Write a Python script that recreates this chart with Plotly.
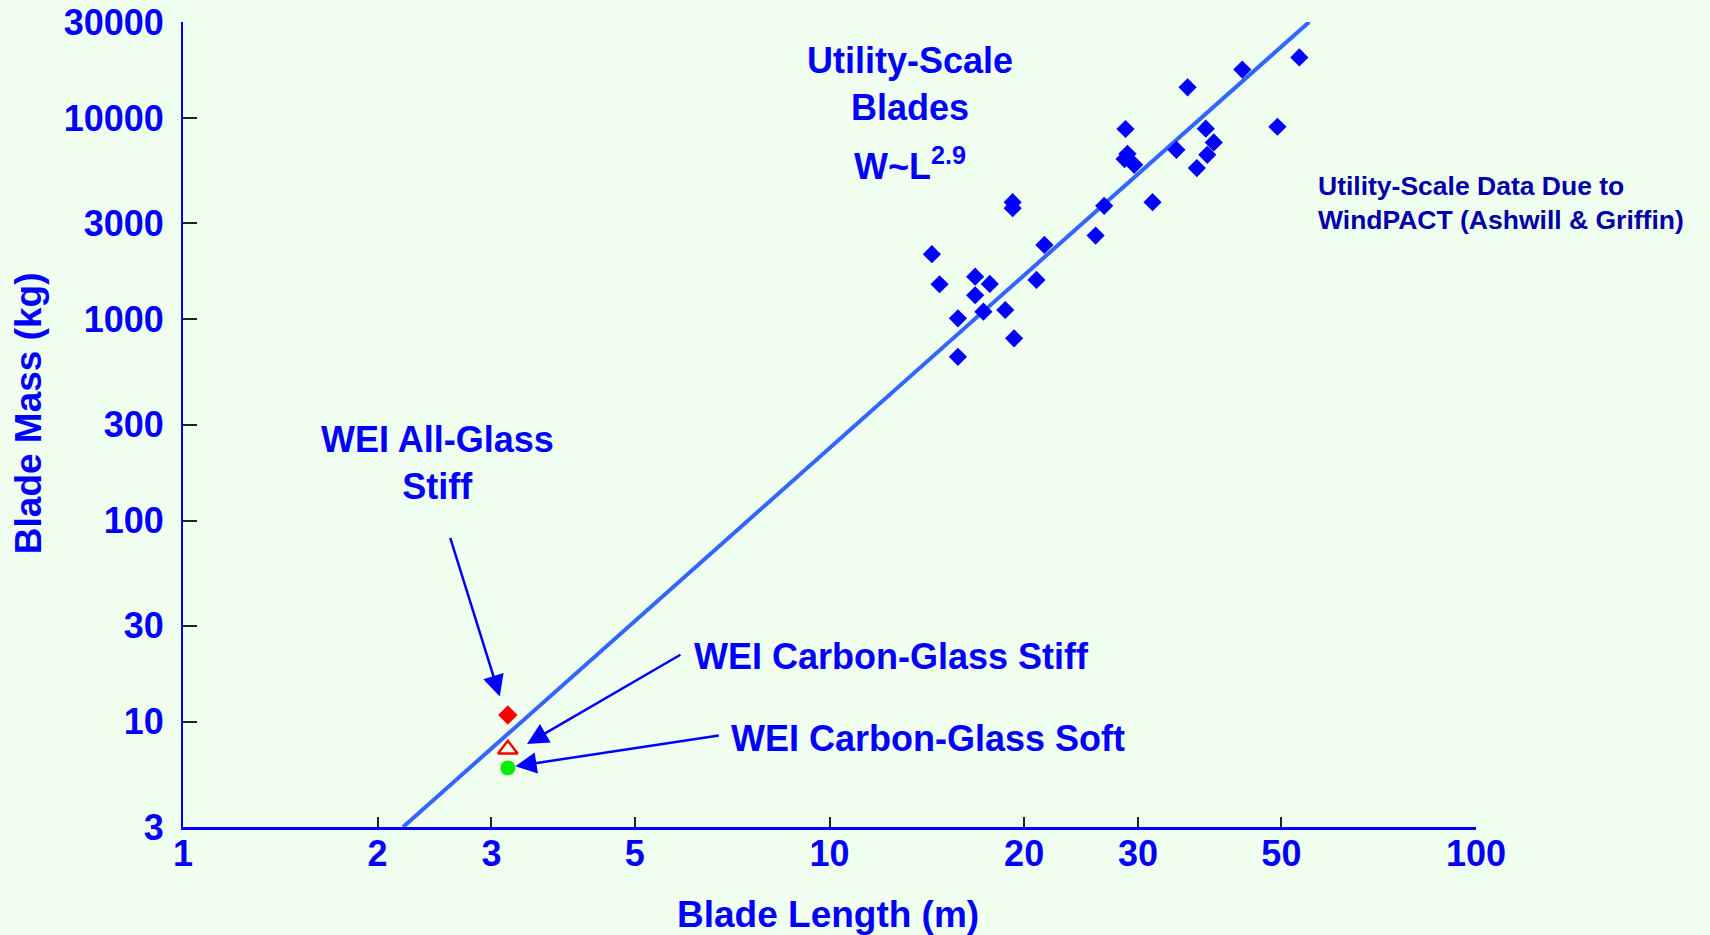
import plotly.graph_objects as go

# Utility-scale blade survey (WindPACT): blade length (m) vs blade mass (kg)
utility_length = [53.3, 43.5, 35.8, 28.7, 38.2, 49.3, 39.3, 38.4, 34.4, 37.0,
                  28.9, 28.6, 29.6, 19.2, 19.2, 31.6, 26.6, 25.8, 21.5, 14.4,
                  14.8, 20.9, 16.8, 17.7, 16.8, 17.3, 18.7, 15.8, 19.3, 15.8]
utility_mass = [20000, 17400, 14200, 8820, 8850, 9050, 7560, 6560, 6950, 5640,
                6640, 6250, 5855, 3820, 3565, 3820, 3660, 2605, 2342, 2105,
                1493, 1568, 1628, 1498, 1316, 1091, 1112, 1011, 804, 651]

# Power-law trend W ~ L^2.9, drawn between its two end points
fit_length = [2.19, 55.2]
fit_mass = [3, 30000]

# WEI small-blade designs
wei_length = [3.18, 3.18, 3.18]
wei_all_glass_stiff = [10.8]
wei_carbon_glass_stiff = [7.3]
wei_carbon_glass_soft = [5.9]

x_ticks = [1, 2, 3, 5, 10, 20, 30, 50, 100]
x_tick_text = ["1", "2", "3", "5", "10", "20", "30", "50", "100"]
y_ticks = [3, 10, 30, 100, 300, 1000, 3000, 10000, 30000]
y_tick_text = ["3", "10", "30", "100", "300", "1000", "3000", "10000", "30000"]

BLUE = "#0000FF"
BG = "#F0FFF0"
FONT = "Liberation Sans, Arial, sans-serif"

fig = go.Figure()

fig.add_trace(go.Scatter(
    x=fit_length, y=fit_mass, mode="lines",
    line=dict(color="#3366FF", width=4), hoverinfo="skip", showlegend=False))

fig.add_trace(go.Scatter(
    x=utility_length, y=utility_mass, mode="markers",
    marker=dict(symbol="diamond", size=14, color=BLUE, line=dict(width=0)),
    showlegend=False))

fig.add_trace(go.Scatter(
    x=wei_length[:1], y=wei_all_glass_stiff, mode="markers",
    marker=dict(symbol="diamond", size=15, color="#FF0000", line=dict(width=0)),
    showlegend=False))

fig.add_trace(go.Scatter(
    x=wei_length[1:2], y=wei_carbon_glass_stiff, mode="markers",
    marker=dict(symbol="triangle-up-open", size=17, color="#FF0000",
                line=dict(width=2.5, color="#FF0000")),
    showlegend=False))

fig.add_trace(go.Scatter(
    x=wei_length[2:], y=wei_carbon_glass_soft, mode="markers",
    marker=dict(symbol="circle", size=15, color="#00EE00", line=dict(width=0)),
    showlegend=False))

big = dict(family=FONT, size=36, color=BLUE, weight="bold")
title_font = dict(family=FONT, size=37, color=BLUE, weight="bold")

annotations = [
    # axis titles
    dict(text="Blade Length (m)", xref="paper", yref="paper",
         x=0.4986, y=-0.1085, xanchor="center", yanchor="middle",
         showarrow=False, font=title_font),
    dict(text="Blade Mass (kg)", xref="paper", yref="paper", textangle=-90,
         x=-0.1189, y=0.5144, xanchor="center", yanchor="middle",
         showarrow=False, font=title_font),
    # labels
    dict(text="Utility-Scale<br>Blades", xref="paper", yref="paper",
         x=0.5624, y=0.9234, xanchor="center", yanchor="middle",
         showarrow=False, font=big),
    dict(text="W~L<sup>2.9</sup>", xref="paper", yref="paper",
         x=0.5624, y=0.8236, xanchor="center", yanchor="middle",
         showarrow=False, font=big),
    dict(text="Utility-Scale Data Due to<br>WindPACT (Ashwill & Griffin)",
         xref="paper", yref="paper", x=0.876, y=0.7755,
         xanchor="left", yanchor="middle", align="left", showarrow=False,
         font=dict(family=FONT, size=26.5, color="#0000A8", weight="bold")),
    dict(text="WEI All-Glass<br>Stiff", xref="paper", yref="paper",
         x=0.1972, y=0.4522, xanchor="center", yanchor="middle",
         showarrow=False, font=big),
    dict(text="WEI Carbon-Glass Stiff", xref="paper", yref="paper",
         x=0.3935, y=0.2116, xanchor="left", yanchor="middle",
         showarrow=False, font=big),
    dict(text="WEI Carbon-Glass Soft", xref="paper", yref="paper",
         x=0.4222, y=0.1099, xanchor="left", yanchor="middle",
         showarrow=False, font=big),
]

# Leader arrows from the labels to the WEI markers (heads in log10 data units)
arrow_style = dict(showarrow=True, arrowhead=2, arrowsize=1.7, arrowwidth=2.5,
                   arrowcolor=BLUE, xref="x", yref="y", text="",
                   axref="pixel", ayref="pixel")
annotations += [
    dict(x=0.490, y=1.126, ax=-50, ay=-160, **arrow_style),
    dict(x=0.532, y=0.890, ax=155, ay=-90, **arrow_style),
    dict(x=0.514, y=0.779, ax=205, ay=-31, **arrow_style),
]

tick_font = dict(family=FONT, size=36, color=BLUE, weight="bold")

fig.update_layout(
    width=1710, height=935,
    margin=dict(l=183, r=234, t=22, b=108),
    paper_bgcolor=BG, plot_bgcolor=BG,
    showlegend=False,
    annotations=annotations,
    xaxis=dict(
        type="log", range=[0, 2], tickvals=x_ticks, ticktext=x_tick_text,
        ticks="inside", ticklen=10, tickwidth=1.5, tickcolor="#222222",
        showline=True, linecolor=BLUE, linewidth=2.5, mirror=False,
        showgrid=False, zeroline=False, tickfont=tick_font,
        ticklabelstandoff=-7, automargin=False,
    ),
    yaxis=dict(
        type="log", range=[0.47712, 4.47712], tickvals=y_ticks,
        ticktext=y_tick_text,
        ticks="inside", ticklen=14, tickwidth=1.5, tickcolor="#222222",
        showline=True, linecolor=BLUE, linewidth=2, mirror=False,
        showgrid=False, zeroline=False, tickfont=tick_font,
        ticklabelstandoff=10, automargin=False,
    ),
)

fig.write_html("out.html")
